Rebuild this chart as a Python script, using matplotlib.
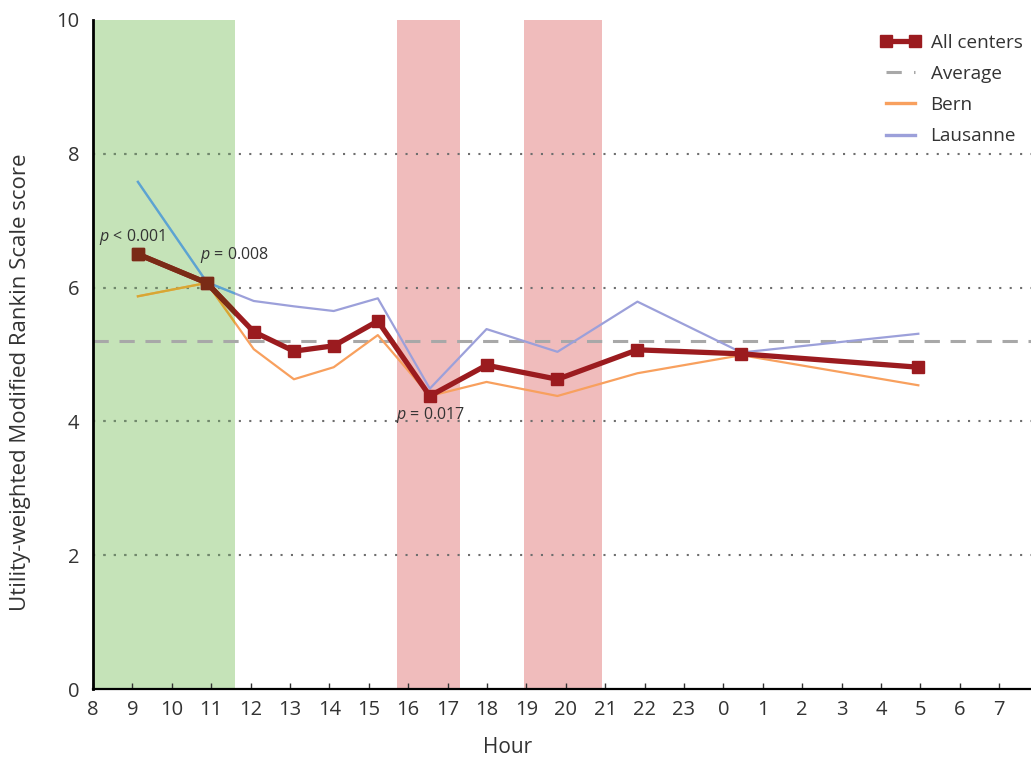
import matplotlib
matplotlib.use("Agg")
import matplotlib.pyplot as plt
from matplotlib.lines import Line2D

plt.rcParams["font.family"] = ["Open Sans", "DejaVu Sans"]
plt.rcParams["mathtext.fontset"] = "custom"
plt.rcParams["mathtext.it"] = "Open Sans:italic"
plt.rcParams["mathtext.rm"] = "Open Sans"

# Time of day on a continuous scale starting at 08:00 (values > 24 are after midnight)
HOURS = [9.14, 10.89, 12.08, 13.10, 14.11, 15.23, 16.55, 17.99, 19.79, 21.82, 24.46, 28.95]
ALL_CENTERS = [6.50, 6.07, 5.34, 5.05, 5.13, 5.50, 4.38, 4.84, 4.63, 5.07, 5.01, 4.81]
BERN = [5.87, 6.07, 5.08, 4.63, 4.81, 5.29, 4.38, 4.59, 4.38, 4.72, 4.99, 4.54]
LAUSANNE = [7.58, 6.08, 5.80, 5.72, 5.65, 5.84, 4.49, 5.38, 5.04, 5.79, 5.03, 5.31]
AVERAGE = 5.20

GREEN_SPAN = (8.0, 11.60)
RED_SPANS = [(15.71, 17.31), (18.93, 20.91)]

TICK_HOURS = list(range(8, 32))
Y_GRID = [2, 4, 6, 8]

P_LABELS = [
    (8.15, 6.76, "< 0.001"),
    (10.71, 6.49, "= 0.008"),
    (15.68, 4.10, "= 0.017"),
]

RED = "#9b1b1f"
ORANGE = "#f8a05e"
BLUE = "#9ca0da"
GREY_DASH = "#a8a8a8"
GREEN = "#c5e3b8"
PINK = "#f0bcbc"
TEXT = "#333333"

# how each colour reads once it sits inside the green morning band
IN_GREEN = {RED: "#7a2b16", ORANGE: "#d6a832", BLUE: "#5aa6d0", "#6e6e6e": "#6f8a6a"}

fig = plt.figure(figsize=(10.31, 7.57), dpi=100)
ax = fig.add_axes([0.0902, 0.0898, 0.9098, 0.8838])

green = ax.axvspan(*GREEN_SPAN, color=GREEN, lw=0, zorder=0)
for lo, hi in RED_SPANS:
    ax.axvspan(lo, hi, color=PINK, lw=0, zorder=0)

for y in Y_GRID:
    ax.axhline(y, color="#6e6e6e", lw=1.5, ls=(0, (1, 4)), zorder=1)
    g = ax.axhline(y, color=IN_GREEN["#6e6e6e"], lw=1.5, ls=(0, (1, 4)), zorder=1.1)
    g.set_clip_path(green)

ax.axhline(AVERAGE, color=GREY_DASH, lw=2.2, ls=(0, (5, 3.5)), zorder=2)

styles = [
    (BERN, ORANGE, dict(lw=1.6), 3),
    (LAUSANNE, BLUE, dict(lw=1.6), 3),
    (ALL_CENTERS, RED, dict(lw=3.8, marker="s", ms=9), 4),
]
for vals, col, kw, z in styles:
    ax.plot(HOURS, vals, color=col, zorder=z, **kw)
    tinted, = ax.plot(HOURS, vals, color=IN_GREEN[col], zorder=z + 0.1, **kw)
    tinted.set_clip_path(green)

for x, y, txt in P_LABELS:
    ax.text(x, y, r"$\it{p}$ " + txt, fontsize=11.5, color=TEXT,
            va="center", ha="left", zorder=6)

ax.set_xlim(8, 31.81)
ax.set_ylim(0, 10)
ax.set_xticks(TICK_HOURS)
ax.set_xticklabels([str(h % 24) for h in TICK_HOURS])
ax.set_yticks([0, 2, 4, 6, 8, 10])
ax.tick_params(axis="x", direction="in", length=4, width=1, labelsize=14.5,
               colors=TEXT, pad=8)
ax.tick_params(axis="y", length=0, labelsize=14.5, colors=TEXT, pad=10)

for side in ("top", "right"):
    ax.spines[side].set_visible(False)
ax.spines["left"].set_linewidth(2)
ax.spines["bottom"].set_linewidth(1.6)

ax.set_xlabel("Hour", fontsize=15, color=TEXT)
ax.xaxis.set_label_coords(0.442, -0.072)
ax.set_ylabel("Utility-weighted Modified Rankin Scale score", fontsize=16,
              color=TEXT)
ax.yaxis.set_label_coords(-0.066, 0.459)

handles = [
    Line2D([], [], color=RED, lw=3.8, marker="s", ms=9),
    Line2D([], [], color=GREY_DASH, lw=2.2, ls=(0, (5, 4))),
    Line2D([], [], color=ORANGE, lw=2.4),
    Line2D([], [], color=BLUE, lw=2.4),
]
leg = ax.legend(handles, ["All centers", "Average", "Bern", "Lausanne"],
                loc="upper right", bbox_to_anchor=(1.009, 1.005),
                frameon=False, fontsize=13.6, handlelength=2.1, handletextpad=0.55,
                labelspacing=0.7, numpoints=2)
for t in leg.get_texts():
    t.set_color(TEXT)

fig.savefig("out.png", dpi=100)
